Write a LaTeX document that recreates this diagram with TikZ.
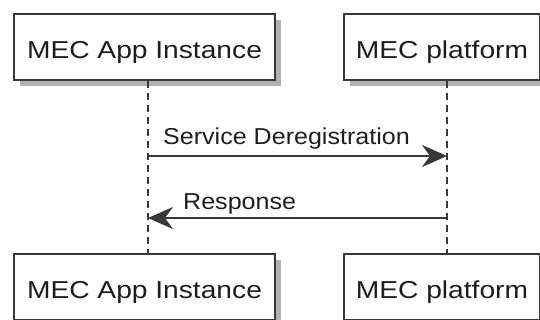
\documentclass[tikz,border=0pt]{standalone}
\usepackage{fontspec}
\setmainfont{Liberation Sans}
\usetikzlibrary{arrows.meta,shadows}
\definecolor{edge}{HTML}{383838}
\definecolor{txt}{HTML}{1E1E1E}
\tikzset{
  pbox/.style={draw=edge, line width=2pt, fill=white, inner sep=0pt,
    text height=23pt, text depth=0pt, text=txt,
    drop shadow={shadow xshift=6pt, shadow yshift=-6pt, fill=black, opacity=0.3},
    font=\fontsize{24.5}{28}\selectfont},
  lifeline/.style={draw=edge, line width=1.3pt, dash pattern=on 7pt off 5pt},
  msg/.style={draw=edge, line width=1.5pt, -{Stealth[length=25pt, width=22pt, inset=8pt]}},
  msglabel/.style={anchor=base west, inner sep=0pt, text=txt, font=\fontsize{23}{26}\selectfont},
}
\begin{document}
\begin{tikzpicture}[x=1pt,y=-1pt]
\useasboundingbox (0,0) rectangle (540,320);
\fill[white] (0,0) rectangle (540,320);
\clip (0,0) rectangle (540,320);
\node[pbox, minimum width=261pt, minimum height=66pt] (A) at (144.5,47) {\scalebox{1.15}[1]{MEC App Instance}};
\node[pbox, minimum width=196pt, minimum height=66pt] (B) at (442,47) {\scalebox{1.15}[1]{MEC platform}};
\node[pbox, minimum width=261pt, minimum height=66pt] (A2) at (144.5,287) {\scalebox{1.15}[1]{MEC App Instance}};
\node[pbox, minimum width=196pt, minimum height=66pt] (B2) at (442,287) {\scalebox{1.15}[1]{MEC platform}};
\draw[lifeline] ([xshift=3.5pt]A.south) -- ([xshift=3.5pt]A2.north);
\draw[lifeline] ([xshift=5pt]B.south) -- ([xshift=5pt]B2.north);
\coordinate (m1s) at (148,156);
\coordinate (m1e) at (447,156);
\coordinate (m2s) at (447,218);
\coordinate (m2e) at (148,218);
\draw[msg] (m1s) -- (m1e);
\node[msglabel] (l1) at (163,145) {\scalebox{1.09}[1]{Service Deregistration}};
\draw[msg] (m2s) -- (m2e);
\node[msglabel] (l2) at (183,210) {\scalebox{1.09}[1]{Response}};
\end{tikzpicture}
\end{document}
